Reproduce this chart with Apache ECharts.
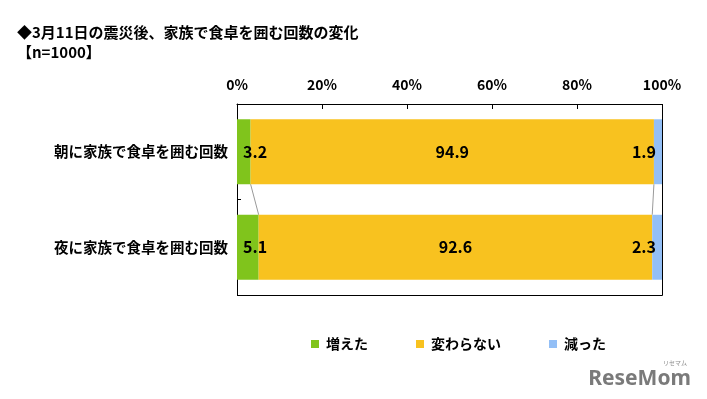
<!DOCTYPE html>
<html>
<head>
<meta charset="utf-8">
<script src="https://cdn.jsdelivr.net/npm/echarts@6/dist/echarts.min.js"></script>
<style>
  html, body { margin: 0; padding: 0; background: #fff; }
  #chart { width: 707px; height: 399px; }
</style>
</head>
<body>
<div id="chart"></div>
<script>
const categories = ['朝に家族で食卓を囲む回数', '夜に家族で食卓を囲む回数'];
const seriesNames = ['増えた', '変わらない', '減った'];
const increased = [3.2, 5.1];
const unchanged = [94.9, 92.6];
const decreased = [1.9, 2.3];
const tickValues = [0, 20, 40, 60, 80, 100];

const colors = ['#80C41C', '#F8C21F', '#93BFF6'];
const FONT = '"Noto Sans CJK JP", "Noto Sans", sans-serif';
const BAR_RATIO = 0.68;
const GRID = { left: 237, right: 45, top: 104, bottom: 104 };
const W = 707, H = 399;
const gx0 = GRID.left + 0.5, gy0 = GRID.top + 0.5;
const gx1 = W - GRID.right + 0.5, gy1 = H - GRID.bottom + 0.5;

// 系列線（Excelのシリーズライン）: 区切り位置の累積値
const boundaries = [
  [increased[0], increased[1]],
  [increased[0] + unchanged[0], increased[1] + unchanged[1]],
];

const labelBase = {
  show: true,
  color: '#000',
  fontSize: 16,
  fontWeight: 'bold',
  fontFamily: FONT,
  formatter: p => p.value.toFixed(1),
};

const chart = echarts.init(document.getElementById('chart'));
chart.setOption({
  animation: false,
  color: colors,
  title: {
    text: '◆3月11日の震災後、家族で食卓を囲む回数の変化\n【n=1000】',
    left: 12,
    top: 17,
    textStyle: { fontSize: 15, fontWeight: 'bold', color: '#000', fontFamily: FONT, lineHeight: 20 },
  },
  legend: {
    data: seriesNames,
    bottom: 43,
    left: 306,
    itemWidth: 8,
    itemHeight: 8,
    itemGap: 48,
    icon: 'rect',
    textStyle: { fontSize: 14, fontWeight: 'bold', color: '#000', fontFamily: FONT, padding: [0, 0, 0, 2] },
  },
  grid: GRID,
  xAxis: {
    type: 'value',
    position: 'top',
    min: 0, max: 100, interval: 20,
    axisLine: { show: true, onZero: false, lineStyle: { color: '#000' } },
    axisTick: { show: true, inside: true, length: 5, lineStyle: { color: '#000' } },
    splitLine: { show: false },
    axisLabel: {
      formatter: v => (tickValues.includes(v) ? v + '%' : ''),
      color: '#000', fontSize: 14, fontWeight: 'bold', fontFamily: FONT, margin: 12,
    },
  },
  yAxis: {
    type: 'category',
    data: categories,
    inverse: true,
    axisLine: { show: true, onZero: false, lineStyle: { color: '#000' } },
    axisTick: { show: true, inside: true, length: 4, lineStyle: { color: '#000' } },
    axisLabel: { color: '#000', fontSize: 14.5, fontWeight: 'bold', fontFamily: FONT, margin: 9 },
  },
  series: [
    {
      name: seriesNames[0], type: 'bar', stack: 'total', barWidth: (BAR_RATIO * 100) + '%',
      data: increased,
      label: Object.assign({}, labelBase, { position: 'insideLeft', distance: 6 }),
    },
    {
      name: seriesNames[1], type: 'bar', stack: 'total',
      data: unchanged,
      label: Object.assign({}, labelBase, { position: 'inside' }),
    },
    {
      name: seriesNames[2], type: 'bar', stack: 'total',
      data: decreased,
      label: Object.assign({}, labelBase, { position: 'insideRight', distance: 6 }),
    },
    {
      type: 'custom',
      silent: true,
      z: 1,
      data: boundaries,
      renderItem: (params, api) => {
        const p1 = api.coord([api.value(0), 0]);
        const p2 = api.coord([api.value(1), 1]);
        const half = api.size([0, 1])[1] * BAR_RATIO / 2;
        return {
          type: 'line',
          shape: { x1: p1[0], y1: p1[1] + half, x2: p2[0], y2: p2[1] - half },
          style: { stroke: '#999', lineWidth: 1 },
        };
      },
      encode: { x: [0, 1] },
    },
  ],
  graphic: [
    // プロットエリアの枠線（右・下）
    {
      type: 'line', silent: true, z: 10,
      shape: { x1: gx1, y1: gy0, x2: gx1, y2: gy1 },
      style: { stroke: '#000', lineWidth: 1 },
    },
    {
      type: 'line', silent: true, z: 10,
      shape: { x1: gx0, y1: gy1, x2: gx1, y2: gy1 },
      style: { stroke: '#000', lineWidth: 1 },
    },
    {
      type: 'text', right: 16, bottom: 9,
      style: { text: 'ReseMom', fill: '#7a7a7a', font: 'bold 21px "Noto Sans", sans-serif' },
    },
    {
      type: 'text', right: 20, bottom: 33,
      style: { text: 'リセマム', fill: '#8a8a8a', font: '6px "Noto Sans CJK JP", sans-serif' },
    },
  ],
});
</script>
</body>
</html>
